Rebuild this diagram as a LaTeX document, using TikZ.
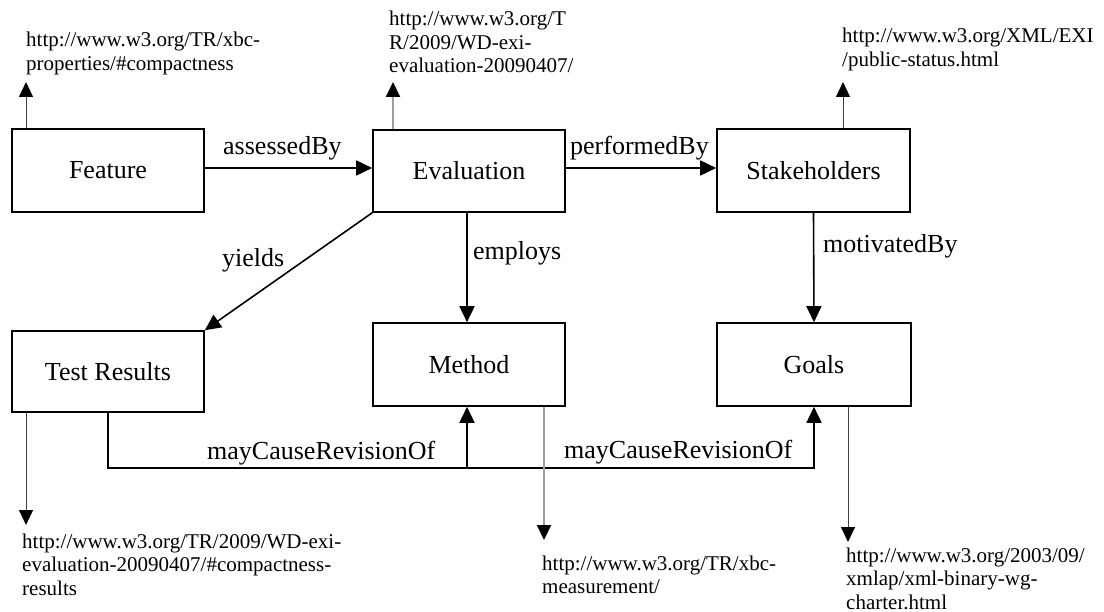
\documentclass[tikz,border=0pt]{standalone}
\usepackage{fontspec}
\setmainfont{Liberation Serif}
\usetikzlibrary{arrows.meta,calc}
\newcommand{\urlblock}[1]{\begin{tabular}[t]{@{}l@{}}#1\end{tabular}}
\begin{document}
\begin{tikzpicture}[x=1pt,y=-1pt,
  box/.style={draw=black,line width=1.6pt,minimum width=192pt,minimum height=82pt,inner sep=0pt,font=\fontsize{26}{30}\selectfont},
  lbl/.style={anchor=base west,inner sep=0pt,font=\fontsize{26}{30}\selectfont},
  urltxt/.style={anchor=base west,inner sep=0pt,font=\fontsize{21}{23.5}\selectfont},
  conn/.style={line width=1.6pt,-{Triangle[length=16pt,width=15pt]}},
  urldark/.style={line width=0.9pt,draw=black!75,-{Triangle[length=15pt,width=14pt,color=black]}},
  urllight/.style={line width=2pt,draw=black!38,-{Triangle[length=15pt,width=14pt,color=black]}}
]
\useasboundingbox (0,0) rectangle (1104,612);

% boxes
\node[box,minimum height=83pt] (feature) at (108,170.5) {Feature};
\node[box] (eval) at (469,171) {Evaluation};
\node[box,minimum width=193pt,minimum height=83pt] (stake) at (813.5,170.5) {Stakeholders};
\node[box,minimum height=81pt] (tr) at (108,371.5) {Test Results};
\node[box,minimum height=83pt] (method) at (469,364.5) {Method};
\node[box,minimum width=194pt,minimum height=83pt] (goals) at (814,364.5) {Goals};

% main connectors
\coordinate (row1) at (0,168);
\draw[conn] (feature.east |- row1) -- (eval.west |- row1);
\draw[conn] (eval.east |- row1) -- (stake.west |- row1);
\draw[conn] (eval.south west) -- (tr.north east);
\coordinate (col2) at (467,0);
\draw[conn] (eval.south -| col2) -- (method.north -| col2);
\draw[conn] (stake.south) -- (goals.north);
\coordinate (bus) at (0,468);
\draw[conn] (tr.south) -- (tr.south |- bus) -| (goals.south);
\draw[conn] (bus -| col2) -- (method.south -| col2);

% edge labels
\node[lbl] (l1) at (223,155) {assessedBy};
\node[lbl] (l2) at (570,155) {performedBy};
\node[lbl] (l3) at (222,267) {yields};
\node[lbl] (l4) at (473,260) {employs};
\node[lbl] (l5) at (823,253) {motivatedBy};
\node[lbl] (l6) at (207,460) {mayCauseRevisionOf};
\node[lbl] (l7) at (564,458) {mayCauseRevisionOf};

% URL texts
\node[urltxt] (fu) at (26,47) {\urlblock{http://www.w3.org/TR/xbc-\\properties/\#compactness}};
\node[urltxt] (eu) at (389,26) {\urlblock{http://www.w3.org/T\\R/2009/WD-exi-\\evaluation-20090407/}};
\node[urltxt] (su) at (842,43) {\urlblock{http://www.w3.org/XML/EXI\\/public-status.html}};
\node[urltxt] (tu) at (22,548) {\urlblock{http://www.w3.org/TR/2009/WD-exi-\\evaluation-20090407/\#compactness-\\results}};
\node[urltxt] (mu) at (542,570) {\urlblock{http://www.w3.org/TR/xbc-\\measurement/}};
\node[urltxt] (gu) at (846,562) {\urlblock{http://www.w3.org/2003/09/\\xmlap/xml-binary-wg-\\charter.html}};

% URL connector ends
\coordinate (fuT) at (26,82);
\coordinate (euT) at (393,82);
\coordinate (suT) at (843,82);
\coordinate (tuT) at (26,525);
\coordinate (muT) at (544,540);
\coordinate (guT) at (848,542);

\draw[urldark] (feature.north west -| fuT) -- (fuT);
\draw[urllight] (eval.north west -| euT) -- (euT);
\draw[urldark] (stake.north west -| suT) -- (suT);
\draw[urldark] (tr.south west -| tuT) -- (tuT);
\draw[urllight] (method.south west -| muT) -- (muT);
\draw[urldark] (goals.south west -| guT) -- (guT);
\end{tikzpicture}
\end{document}
